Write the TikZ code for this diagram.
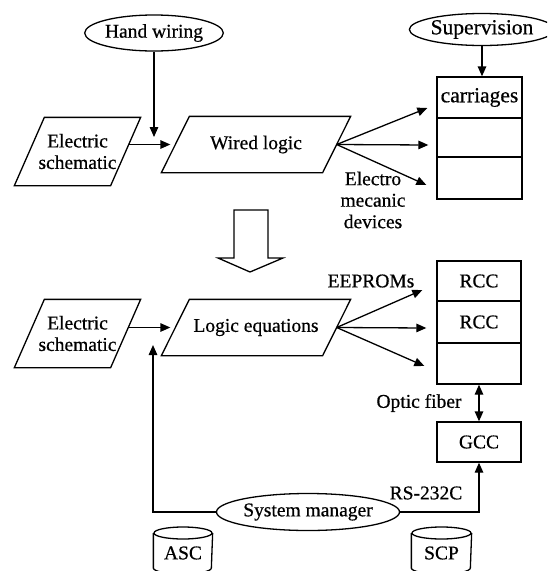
\documentclass[tikz,border=0pt]{standalone}
\usepackage{fontspec}
\setmainfont{Liberation Serif}[FakeBold=0.6]
\usetikzlibrary{shapes.geometric,arrows.meta,calc}
\begin{document}
\begin{tikzpicture}[x=1pt,y=-1pt,
  font=\fontsize{19.5}{21.5}\selectfont,
  line width=1.3pt,
  tip/.tip={Triangle[length=10pt,width=8.5pt]},
  arr/.style={-tip},
  ell/.style={draw, ellipse, inner sep=0pt},
  cell/.style={draw, minimum width=84pt, inner sep=0pt},
  para/.style={inner sep=0pt, align=center},
  lbl/.style={inner sep=0pt, align=center}]
\useasboundingbox (0,0) rectangle (547,571);
\clip (0,0) rectangle (547,571);

% ---------- upper part ----------
\node[ell, minimum width=134pt, minimum height=36pt] (hw) at (154,33) {Hand wiring};
\node[ell, minimum width=128pt, minimum height=32pt, font=\fontsize{21.5}{23}\selectfont] (sup) at (482,29.5) {Supervision};

\node[para, minimum width=95pt, minimum height=67pt] (es1) at (77.5,151.5) {Electric\\schematic};
\draw ([xshift=15pt]es1.north west) -- ([xshift=15pt]es1.north east)
  -- ([xshift=-15pt]es1.south east) -- ([xshift=-15pt]es1.south west) -- cycle;

\node[para, minimum width=160pt, minimum height=55pt] (wl) at (256,144.5) {Wired logic};
\draw ([xshift=14pt]wl.north west) -- ([xshift=14pt]wl.north east)
  -- ([xshift=-14pt]wl.south east) -- ([xshift=-14pt]wl.south west) -- cycle;

\coordinate (hwend) at (155,137);
\draw[arr] (hw.south) -- (hw.south |- hwend);
\draw[arr, shorten <=3pt, shorten >=5pt] (es1.east |- wl.west) -- (wl.west);

\node[cell, minimum width=85pt, minimum height=41pt, font=\fontsize{21.5}{23}\selectfont] (c1) at (479.5,97.5) {carriages};
\node[cell, minimum width=85pt, minimum height=39pt] (c2) at (479.5,137.5) {};
\node[cell, minimum width=85pt, minimum height=42pt] (c3) at (479.5,178) {};

\draw[arr] (sup.south) -- (sup.south |- c1.north);
\draw[arr] (wl.east) -- ($(c1.west)+(-9,10.5)$);
\draw[arr] (wl.east) -- ($(c2.west)+(-8,7.5)$);
\draw[arr] (wl.east) -- ($(c3.west)+(-10,7)$);

\node[lbl] (emd) at (373,200) {Electro\\mecanic\\devices};

% hollow transition arrow
\draw (234,210) -- (268,210) -- (268,258) -- (283,258) -- (250,272)
  -- (218,258) -- (234,258) -- cycle;

% ---------- lower part ----------
\node[para, minimum width=95pt, minimum height=67pt] (es2) at (77.5,333.5) {Electric\\schematic};
\draw ([xshift=15pt]es2.north west) -- ([xshift=15pt]es2.north east)
  -- ([xshift=-15pt]es2.south east) -- ([xshift=-15pt]es2.south west) -- cycle;

\node[para, minimum width=160pt, minimum height=55pt] (le) at (256,327.5) {Logic equations};
\draw ([xshift=14pt]le.north west) -- ([xshift=14pt]le.north east)
  -- ([xshift=-14pt]le.south east) -- ([xshift=-14pt]le.south west) -- cycle;

\draw[arr, shorten <=3pt, shorten >=5pt] (es2.east |- le.west) -- (le.west);

\node[cell, minimum height=40pt] (r1) at (479,281) {RCC};
\node[cell, minimum height=42pt] (r2) at (479,322) {RCC};
\node[cell, minimum height=41pt] (r3) at (479,363.5) {};

\draw[arr] (le.east) -- ($(r1.west)+(-14,9)$);
\draw[arr] (le.east) -- ($(r2.west)+(-10,6)$);
\draw[arr] (le.east) -- ($(r3.west)+(-12,2.5)$);

\node[lbl] (eep) at (371,281) {EEPROMs};

\node[cell, minimum height=40pt] (gcc) at (479,442) {GCC};
\draw[tip-tip] (r3.south) -- (gcc.north);
\node[lbl] (of) at (419,403) {Optic fiber};

\node[ell, minimum width=178pt, minimum height=37pt] (sm) at (308,512) {System manager};
\coordinate (leup) at (153,345);
\draw[arr] (sm.west) -| (leup);
\draw[arr] (sm.east) -| (gcc.south);
\node[lbl] (rs) at (426,493) {RS-232C};

% databases
\node[inner sep=0pt, minimum width=58pt, minimum height=36pt] (asc) at (183,553) {ASC};
\draw (asc.center |- 0,533) ellipse [x radius=29, y radius=6];
\draw (asc.west |- 0,533) -- (asc.west |- 0,568)
  arc[start angle=180, end angle=0, x radius=29, y radius=6] -- (asc.east |- 0,533);

\node[inner sep=0pt, minimum width=59pt, minimum height=36pt] (scp) at (441.5,553) {SCP};
\draw (scp.center |- 0,533) ellipse [x radius=29.5, y radius=6];
\draw (scp.west |- 0,533) -- (scp.west |- 0,568)
  arc[start angle=180, end angle=0, x radius=29.5, y radius=6] -- (scp.east |- 0,533);
\end{tikzpicture}
\end{document}
